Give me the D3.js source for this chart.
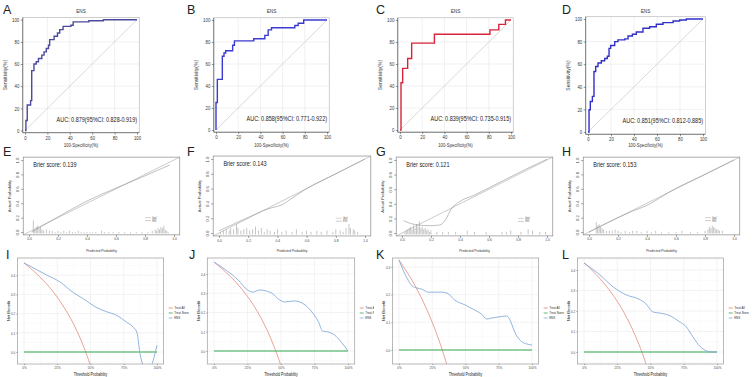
<!DOCTYPE html>
<html>
<head>
<meta charset="utf-8">
<script src="https://cdn.jsdelivr.net/npm/d3@7"></script>
<style>
  body { margin: 0; background: #fff; }
  svg { display: block; font-family: "Liberation Sans", Arial, sans-serif; }
</style>
</head>
<body>
<svg id="fig" width="753" height="377"></svg>
<script>
// ---------- ROC curves: [100-Specificity, Sensitivity] at each step ----------
const rocA = [[0,0],[0.8,9],[2,23],[5,27],[6,54],[8,60],[10,62],[12,65],[15,68],[17,71],[19,74],[21,77],[22,82],
              [26,85],[29,88],[31,91],[34,94],[41,95],[43,98],[57,99],[70,100],[100,100]];
const rocB = [[0,0],[0,25],[1.2,46],[5.7,67],[7.2,70],[8.7,72],[15,77],[16.6,81],[34,83],[44,86],[47,91],[50,93],
              [71,95],[74,97],[79,100],[100,100]];
const rocC = [[0,0],[0.9,43],[2.4,56],[6.9,65],[10.5,79],[31,87],[81,91],[89,96],[95,100],[100,100]];
const rocD = [[0,0],[0.9,19.7],[2,27],[3.8,31.5],[5.2,53.5],[6.7,58],[8.7,61],[11.6,63],[14.5,65],[16.8,67],[18.3,74],
              [19.7,76.5],[23.2,80],[26,81.5],[32,82.4],[34.8,85],[38.6,86.5],[42,88.5],[47.8,91.8],[53.6,93.2],
              [59.4,95.3],[65.2,96.8],[74,98.2],[79.7,99.1],[85.5,100],[100,100]];
const aucLabels = ["AUC: 0.879(95%CI: 0.828-0.919)", "AUC: 0.858(95%CI: 0.771-0.922)",
                   "AUC: 0.839(95%CI: 0.735-0.915)", "AUC: 0.851(95%CI: 0.812-0.885)"];
const rocTicks = [0, 20, 40, 60, 80, 100];

// ---------- calibration: fitted curve [predicted, actual] and rug [predicted, count] ----------
const calE = [[0.02,0.0],[0.2,0.21],[0.4,0.43],[0.6,0.61],[0.8,0.78],[0.97,0.93]];
const calF = [[0.0,0.03],[0.1,0.12],[0.2,0.21],[0.3,0.30],[0.36,0.34],[0.43,0.38],[0.5,0.47],[0.6,0.6],[0.8,0.8],[1.0,1.0]];
const calG = [[0.01,0.17],[0.06,0.13],[0.11,0.11],[0.19,0.10],[0.26,0.11],[0.30,0.18],[0.34,0.33],[0.39,0.42],
              [0.5,0.52],[0.7,0.72],[0.85,0.87],[1.0,1.01]];
const calH = [[0.0,0.0],[0.2,0.2],[0.3,0.29],[0.4,0.37],[0.47,0.45],[0.55,0.55],[0.8,0.8],[1.0,1.0]];

const rugE = [[0.03,10],[0.04,3],[0.05,5],[0.06,6],[0.07,4],[0.08,5],[0.09,3],[0.10,2],[0.12,3],[0.14,2],[0.16,2],
              [0.18,1],[0.20,2],[0.22,1],[0.24,2],[0.26,1],[0.28,2],[0.30,1],[0.32,1],[0.34,2],[0.36,1],[0.38,1],
              [0.40,1],[0.42,1],[0.44,1],[0.46,1],[0.50,2],[0.52,1],[0.55,1],[0.58,1],[0.62,1],[0.66,1],[0.70,1],
              [0.74,1],[0.78,1],[0.82,1],[0.85,2],[0.87,3],[0.88,2],[0.89,4],[0.90,3],[0.91,5],[0.92,4],[0.93,6],
              [0.94,3],[0.95,2],[0.96,1]];
const rugF = [[0.01,2],[0.03,3],[0.05,4],[0.07,3],[0.08,5],[0.10,4],[0.12,8],[0.13,5],[0.15,3],[0.17,4],[0.19,5],
              [0.21,3],[0.23,4],[0.25,6],[0.27,3],[0.29,5],[0.31,2],[0.33,4],[0.35,3],[0.38,2],[0.40,4],[0.43,2],
              [0.46,3],[0.50,2],[0.53,4],[0.57,2],[0.60,3],[0.63,2],[0.67,3],[0.70,2],[0.74,3],[0.78,2],[0.80,4],
              [0.83,3],[0.85,2],[0.87,5],[0.89,8],[0.90,5],[0.92,4],[0.93,3],[0.95,2]];
const rugG = [[0.02,2],[0.03,3],[0.04,4],[0.05,5],[0.06,6],[0.07,4],[0.08,7],[0.09,5],[0.10,8],[0.11,6],[0.12,10],
              [0.13,5],[0.14,6],[0.15,4],[0.16,5],[0.17,3],[0.18,4],[0.19,2],[0.20,3],[0.24,2],[0.28,2],[0.32,2],
              [0.37,2],[0.45,3],[0.50,2],[0.58,2],[0.69,2],[0.72,2],[0.75,3],[0.82,2],[0.87,4],[0.90,3],[0.95,2],[0.99,2]];
const rugH = [[0.05,9],[0.06,6],[0.07,7],[0.08,5],[0.09,4],[0.10,3],[0.12,2],[0.14,2],[0.16,2],[0.18,3],[0.20,2],
              [0.22,1],[0.25,2],[0.28,1],[0.30,2],[0.33,2],[0.36,1],[0.40,2],[0.43,1],[0.46,2],[0.50,1],[0.55,1],
              [0.60,1],[0.64,2],[0.70,1],[0.75,1],[0.80,2],[0.82,3],[0.83,5],[0.84,4],[0.85,6],[0.86,5],[0.87,4],
              [0.88,3],[0.89,3],[0.90,2],[0.92,2]];
const brierLabels = ["Brier score: 0.139", "Brier score: 0.143", "Brier score: 0.121", "Brier score: 0.153"];
const calTicks = [0, 0.2, 0.4, 0.6, 0.8, 1.0];
const calLegend = ["Ideal", "ENS"];

// ---------- decision curves: [threshold, net benefit] ----------
const allI = [[0,0.464],[0.1,0.404],[0.2,0.33],[0.3,0.234],[0.4,0.107],[0.45,0.025],[0.5,-0.072],[0.55,-0.19]];
const ensI = [[0,0.464],[0.173,0.40],[0.27,0.365],[0.37,0.31],[0.44,0.28],[0.55,0.23],[0.62,0.21],[0.70,0.19],
              [0.77,0.156],[0.82,0.13],[0.85,0.10],[0.87,0.0],[0.90,-0.08],[0.93,-0.12],[0.955,-0.08],[1.0,0.035]];
const allJ = [[0,0.462],[0.1,0.402],[0.2,0.328],[0.3,0.232],[0.4,0.103],[0.45,0.02],[0.5,-0.076],[0.55,-0.19]];
const ensJ = [[0,0.462],[0.09,0.42],[0.18,0.369],[0.25,0.317],[0.29,0.306],[0.34,0.317],[0.43,0.301],[0.49,0.265],
              [0.53,0.255],[0.60,0.26],[0.68,0.239],[0.73,0.203],[0.78,0.151],[0.81,0.104],[0.85,0.099],
              [0.90,0.083],[0.955,0.042],[1.0,0.0]];
const allK = [[0,0.325],[0.05,0.289],[0.1,0.25],[0.15,0.206],[0.2,0.156],[0.25,0.10],[0.3,0.036],[0.35,-0.038],[0.4,-0.125]];
const ensK = [[0,0.325],[0.06,0.26],[0.10,0.231],[0.135,0.224],[0.17,0.22],[0.22,0.209],[0.32,0.209],[0.36,0.206],
              [0.42,0.18],[0.50,0.162],[0.57,0.144],[0.62,0.13],[0.66,0.112],[0.70,0.116],[0.745,0.119],[0.81,0.123],
              [0.835,0.108],[0.87,0.065],[0.925,0.029],[0.96,0.022],[1.0,0.018]];
const allL = [[0,0.435],[0.1,0.372],[0.2,0.294],[0.3,0.193],[0.4,0.058],[0.45,-0.027],[0.5,-0.13]];
const ensL = [[0,0.434],[0.12,0.376],[0.22,0.317],[0.32,0.278],[0.41,0.259],[0.46,0.239],[0.52,0.195],[0.57,0.19],
              [0.65,0.176],[0.71,0.151],[0.77,0.122],[0.81,0.083],[0.85,0.044],[0.895,0.015],[0.96,0.0],[1.0,0.0]];
const noneLine = [[0,0],[1,0]];
const dcaXTicks = [0, 0.25, 0.5, 0.75, 1];
const dcaXLabels = ["0%", "25%", "50%", "75%", "100%"];
const dcaYTicks4 = [0, 0.1, 0.2, 0.3, 0.4];
const dcaYTicks3 = [0, 0.1, 0.2, 0.3];
const dcaLegend = ["Treat All", "Treat None", "ENS"];
const dcaColors = ["#e07d6c", "#35a852", "#86abdc"];

// ---------- layout ----------
const rocPanels = [
    { letter: 'A', lx: 3,   data: rocA, color: '#4a4a9e', auc: aucLabels[0], x0: 25,  x1: 137, y0: 130.5, y1: 19.7 },
    { letter: 'B', lx: 187, data: rocB, color: '#3b3bd2', auc: aucLabels[1], x0: 216, x1: 327, y0: 130,   y1: 20 },
    { letter: 'C', lx: 376, data: rocC, color: '#d8243a', auc: aucLabels[2], x0: 400, x1: 511, y0: 130,   y1: 20 },
    { letter: 'D', lx: 562, data: rocD, color: '#3030c8', auc: aucLabels[3], x0: 588, x1: 703, y0: 132,   y1: 19 }
];
const calPanels = [
    { letter: 'E', lx: 3,   curve: calE, rug: rugE, brier: brierLabels[0], x0: 29,  x1: 174, y0: 232, y1: 160 },
    { letter: 'F', lx: 187, curve: calF, rug: rugF, brier: brierLabels[1], x0: 219, x1: 365, y0: 233, y1: 159 },
    { letter: 'G', lx: 376, curve: calG, rug: rugG, brier: brierLabels[2], x0: 402, x1: 547, y0: 233, y1: 160 },
    { letter: 'H', lx: 562, curve: calH, rug: rugH, brier: brierLabels[3], x0: 589, x1: 734, y0: 232, y1: 160 }
];
const dcaPanels = [
    { letter: 'I', lx: 6,   all: allI, ens: ensI, ticks: dcaYTicks4, x0: 24,  x1: 157, y0: 352, yTopPx: 275.2, clip: 753 },
    { letter: 'J', lx: 189, all: allJ, ens: ensJ, ticks: dcaYTicks4, x0: 214, x1: 348, y0: 351, yTopPx: 274,   clip: 374 },
    { letter: 'K', lx: 376, all: allK, ens: ensK, ticks: dcaYTicks3, x0: 399, x1: 532, y0: 350, yTopPx: 267,   clip: 753 },
    { letter: 'L', lx: 562, all: allL, ens: ensL, ticks: dcaYTicks4, x0: 584, x1: 717, y0: 352, yTopPx: 270,   clip: 753 }
];
const dcaTop = 258, dcaBottom = 364;

const svg = d3.select('#fig');

function styleAxis(g, size, color) {
    g.attr('font-size', size).attr('font-family', null);
    g.select('.domain').remove();
    g.selectAll('.tick line').attr('stroke', color).attr('stroke-width', 0.5);
    g.selectAll('.tick text').attr('fill', color);
}

function letter(g, txt, x, y) {
    g.append('text').attr('class', 'letter')
        .attr('x', x).attr('y', y)
        .attr('font-size', 12.5).attr('fill', '#222')
        .text(txt);
}

function drawROC(p) {
    const x = d3.scaleLinear().domain([0, 100]).range([p.x0, p.x1]);
    const y = d3.scaleLinear().domain([0, 100]).range([p.y0, p.y1]);
    const L = x(-2), R = x(102), T = y(102), B = y(-2);
    const g = svg.append('g');

    g.selectAll('.vg').data(rocTicks.slice(1, -1)).join('line').attr('class', 'vg')
        .attr('x1', d => x(d)).attr('x2', d => x(d)).attr('y1', T).attr('y2', B)
        .attr('stroke', '#e3e3e3').attr('stroke-width', 0.5);
    g.selectAll('.hg').data(rocTicks.slice(1, -1)).join('line').attr('class', 'hg')
        .attr('y1', d => y(d)).attr('y2', d => y(d)).attr('x1', L).attr('x2', R)
        .attr('stroke', '#e3e3e3').attr('stroke-width', 0.5);

    g.append('rect').attr('x', L).attr('y', T).attr('width', R - L).attr('height', B - T)
        .attr('fill', 'none').attr('stroke', '#b0b0b0').attr('stroke-width', 0.6);
    g.append('line').attr('x1', L).attr('x2', L).attr('y1', T).attr('y2', B).attr('stroke', '#555').attr('stroke-width', 0.7);
    g.append('line').attr('x1', L).attr('x2', R).attr('y1', B).attr('y2', B).attr('stroke', '#555').attr('stroke-width', 0.7);

    g.append('line').attr('x1', x(0)).attr('y1', y(0)).attr('x2', x(100)).attr('y2', y(100))
        .attr('stroke', '#cfcfcf').attr('stroke-width', 0.8);

    g.append('path').datum(p.data)
        .attr('fill', 'none').attr('stroke', p.color).attr('stroke-width', 1.4)
        .attr('d', d3.line().x(d => x(d[0])).y(d => y(d[1])).curve(d3.curveStepAfter));

    const ax = g.append('g').attr('transform', `translate(0,${B})`)
        .call(d3.axisBottom(x).tickValues(rocTicks).tickSize(2).tickPadding(1));
    styleAxis(ax, 5.5, '#333');
    const ay = g.append('g').attr('transform', `translate(${L},0)`)
        .call(d3.axisLeft(y).tickValues(rocTicks).tickSize(2).tickPadding(1.5));
    styleAxis(ay, 5.5, '#333');

    g.append('text').attr('x', x(50)).attr('y', 12.5).attr('text-anchor', 'middle')
        .attr('font-size', 6).attr('fill', '#333').text('ENS');
    g.append('text').attr('x', x(50)).attr('y', 147).attr('text-anchor', 'middle')
        .attr('font-size', 5.5).attr('fill', '#333').text('100-Specificity(%)');
    g.append('text').attr('class', 'vert')
        .attr('transform', `translate(${L - 16},${y(50)}) rotate(-90)`)
        .attr('text-anchor', 'middle').attr('font-size', 5).attr('fill', '#333').text('Sensitivity(%)');
    g.append('text').attr('x', x(100)).attr('y', y(8)).attr('text-anchor', 'end')
        .attr('font-size', 7).attr('fill', '#222').text(p.auc);

    letter(g, p.letter, p.lx, 13.5);
}

function drawCal(p) {
    const x = d3.scaleLinear().domain([0, 1]).range([p.x0, p.x1]);
    const y = d3.scaleLinear().domain([0, 1]).range([p.y0, p.y1]);
    const h = d3.scaleLinear().domain([0, 10]).range([0, 13]);
    const L = x(-0.04), R = x(1.04), T = y(1.04), B = y(-0.04);
    const g = svg.append('g');

    g.append('rect').attr('x', L).attr('y', T).attr('width', R - L).attr('height', B - T)
        .attr('fill', 'none').attr('stroke', '#777').attr('stroke-width', 0.6);

    g.selectAll('.rug').data(p.rug).join('line').attr('class', 'rug')
        .attr('x1', d => x(d[0])).attr('x2', d => x(d[0]))
        .attr('y1', y(-0.02)).attr('y2', d => y(-0.02) - h(d[1]))
        .attr('stroke', '#8a8a8a').attr('stroke-width', 0.5);

    g.append('line').attr('x1', L).attr('y1', B).attr('x2', R).attr('y2', T)
        .attr('stroke', '#a8a8a8').attr('stroke-width', 0.6);
    g.append('path').datum(p.curve)
        .attr('fill', 'none').attr('stroke', '#959595').attr('stroke-width', 0.6)
        .attr('d', d3.line().x(d => x(d[0])).y(d => y(d[1])).curve(d3.curveMonotoneX));

    const ax = g.append('g').attr('transform', `translate(0,${B})`)
        .call(d3.axisBottom(x).tickValues(calTicks).tickFormat(d3.format('.1f')).tickSize(2).tickPadding(0.5));
    styleAxis(ax, 4.3, '#444');
    const ay = g.append('g').attr('transform', `translate(${L},0)`)
        .call(d3.axisLeft(y).tickValues(calTicks).tickFormat(d3.format('.1f')).tickSize(2));
    styleAxis(ay, 4.3, '#444');
    ay.selectAll('.tick text').attr('class', 'vert')
        .attr('x', 0).attr('y', -4.5).attr('dy', 0)
        .attr('text-anchor', 'middle').attr('transform', 'rotate(-90)');

    g.append('text').attr('x', x(0.5)).attr('y', 252).attr('text-anchor', 'middle')
        .attr('font-size', 4.3).attr('fill', '#333').text('Predicted Probability');
    g.append('text').attr('class', 'vert')
        .attr('transform', `translate(${L - 12},${y(0.5)}) rotate(-90)`)
        .attr('text-anchor', 'middle').attr('font-size', 4.2).attr('fill', '#333').text('Actual Probability');
    g.append('text').attr('x', x(0.03)).attr('y', y(0.9)).attr('font-size', 7).attr('fill', '#222').text(p.brier);

    calLegend.forEach((t, i) => {
        const ly = y(0.2) + i * 3;
        g.append('line').attr('x1', x(0.8)).attr('x2', x(0.84)).attr('y1', ly).attr('y2', ly)
            .attr('stroke', i === 0 ? '#a8a8a8' : '#959595').attr('stroke-width', 0.5);
        g.append('text').attr('x', x(0.85)).attr('y', ly).attr('dy', '0.35em')
            .attr('font-size', 2.6).attr('fill', '#555').text(t);
    });

    letter(g, p.letter, p.lx, 156);
}

function drawDCA(p, idx) {
    const x = d3.scaleLinear().domain([0, 1]).range([p.x0, p.x1]);
    const yTop = p.ticks[p.ticks.length - 1];
    const y = d3.scaleLinear().domain([0, yTop]).range([p.y0, p.yTopPx]);
    const L = x(-0.05), R = x(1.05), T = dcaTop, B = dcaBottom;

    const cid = 'clipR' + idx;
    svg.append('clipPath').attr('id', cid).append('rect')
        .attr('x', L - 30).attr('y', T - 10).attr('width', p.clip - (L - 30)).attr('height', 130);
    const g = svg.append('g').attr('clip-path', `url(#${cid})`);

    const fid = 'clipF' + idx;
    svg.append('clipPath').attr('id', fid).append('rect')
        .attr('x', L).attr('y', T).attr('width', R - L).attr('height', B - T);

    const yMinor = p.ticks.map(d => d + 0.05).concat([-0.05]);
    const xMinor = [0.125, 0.375, 0.625, 0.875];
    g.selectAll('.xm').data(xMinor).join('line').attr('class', 'xm')
        .attr('x1', d => x(d)).attr('x2', d => x(d)).attr('y1', T).attr('y2', B)
        .attr('stroke', '#f2f2f2').attr('stroke-width', 0.4);
    g.selectAll('.ym').data(yMinor).join('line').attr('class', 'ym')
        .attr('y1', d => y(d)).attr('y2', d => y(d)).attr('x1', L).attr('x2', R)
        .attr('stroke', '#f2f2f2').attr('stroke-width', 0.4).attr('clip-path', `url(#${fid})`);
    g.selectAll('.xg').data(dcaXTicks).join('line').attr('class', 'xg')
        .attr('x1', d => x(d)).attr('x2', d => x(d)).attr('y1', T).attr('y2', B)
        .attr('stroke', '#e6e6e6').attr('stroke-width', 0.5);
    g.selectAll('.yg').data(p.ticks).join('line').attr('class', 'yg')
        .attr('y1', d => y(d)).attr('y2', d => y(d)).attr('x1', L).attr('x2', R)
        .attr('stroke', '#e6e6e6').attr('stroke-width', 0.5);

    const line = d3.line().x(d => x(d[0])).y(d => y(d[1])).curve(d3.curveMonotoneX);
    const lines = g.append('g').attr('clip-path', `url(#${fid})`);
    lines.append('path').datum(p.all).attr('fill', 'none').attr('stroke', dcaColors[0]).attr('stroke-width', 0.7).attr('d', line);
    lines.append('path').datum(noneLine).attr('fill', 'none').attr('stroke', dcaColors[1]).attr('stroke-width', 1.2).attr('d', line);
    lines.append('path').datum(p.ens).attr('fill', 'none').attr('stroke', dcaColors[2]).attr('stroke-width', 0.9).attr('d', line);

    g.append('rect').attr('x', L).attr('y', T).attr('width', R - L).attr('height', B - T)
        .attr('fill', 'none').attr('stroke', '#9c9c9c').attr('stroke-width', 0.7);

    const ax = g.append('g').attr('transform', `translate(0,${B})`)
        .call(d3.axisBottom(x).tickValues(dcaXTicks).tickFormat((d, i) => dcaXLabels[i]).tickSize(1).tickPadding(1));
    styleAxis(ax, 4, '#4d4d4d');
    const ay = g.append('g').attr('transform', `translate(${L},0)`)
        .call(d3.axisLeft(y).tickValues(p.ticks).tickFormat(d3.format('.1f')).tickSize(1).tickPadding(1));
    styleAxis(ay, 4, '#4d4d4d');

    g.append('text').attr('x', x(0.5)).attr('y', 375.5).attr('text-anchor', 'middle')
        .attr('font-size', 4.6).attr('fill', '#222').text('Threshold Probability');
    g.append('text').attr('class', 'vert')
        .attr('transform', `translate(${L - 7},${(T + B) / 2}) rotate(-90)`)
        .attr('text-anchor', 'middle').attr('font-size', 4.2).attr('fill', '#222').text('Net Benefit');

    dcaLegend.forEach((t, i) => {
        const ly = 308 + i * 5;
        g.append('line').attr('x1', R + 5).attr('x2', R + 9).attr('y1', ly).attr('y2', ly)
            .attr('stroke', dcaColors[i]).attr('stroke-width', 0.8);
        g.append('text').attr('x', R + 10.5).attr('y', ly).attr('dy', '0.35em')
            .attr('font-size', 3.8).attr('fill', '#333').text(t);
    });

    letter(svg, p.letter, p.lx, 259);
}

rocPanels.forEach(drawROC);
calPanels.forEach(drawCal);
dcaPanels.forEach(drawDCA);

// the figure was squeezed horizontally: narrow every horizontal label
svg.selectAll('text:not(.letter):not(.vert)').each(function () {
    const w = this.getComputedTextLength();
    d3.select(this).attr('textLength', w * 0.78).attr('lengthAdjust', 'spacingAndGlyphs');
});
</script>
</body>
</html>
